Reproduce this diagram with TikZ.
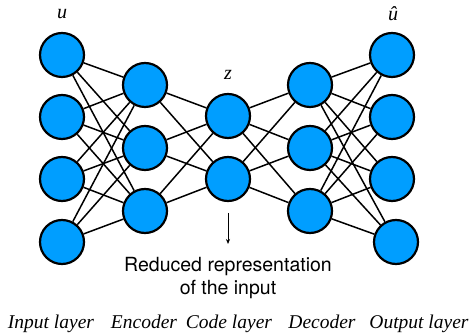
\documentclass[tikz,border=0pt]{standalone}
\usepackage{fontspec}
\setmainfont{Liberation Serif}
\newfontfamily\labelsans{TeX Gyre Heros}
\usetikzlibrary{arrows.meta}
\definecolor{neuron}{RGB}{0,158,255}
\pgfdeclarelayer{links}
\pgfsetlayers{links,main}
\tikzset{
  neuronnode/.style={circle, draw=black, line width=2.2pt, fill=neuron,
    minimum size=44pt, inner sep=0pt},
  link/.style={draw=black, line width=1.5pt},
  layername/.style={font=\fontsize{19.5}{22}\selectfont\itshape, anchor=base},
  varname/.style={font=\fontsize{20}{22}\selectfont\itshape},
}
\begin{document}
\begin{tikzpicture}[x=1pt,y=-1pt]
\useasboundingbox (0,0) rectangle (471,336);

% neurons
\foreach \i/\y in {1/55,2/117,3/179} \node[neuronnode] (in\i) at (62,\y) {};
\node[neuronnode] (in4) at (62,242) {};
\foreach \i/\y in {1/85,2/148,3/211} \node[neuronnode] (en\i) at (145,\y) {};
\foreach \i/\y in {1/116,2/179} \node[neuronnode] (co\i) at (228,\y) {};
\foreach \i/\y in {1/85,2/148,3/211} \node[neuronnode] (de\i) at (310,\y) {};
\foreach \i/\y in {1/55,2/117,3/179} \node[neuronnode] (out\i) at (392,\y) {};
\node[neuronnode] (out4) at (396,242) {};

% fully connected links, drawn behind the neurons
\begin{pgfonlayer}{links}
  \foreach \a in {1,...,4} \foreach \b in {1,...,3} \draw[link] (in\a) -- (en\b);
  \foreach \a in {1,...,3} \foreach \b in {1,2} \draw[link] (en\a) -- (co\b);
  \foreach \a in {1,2} \foreach \b in {1,...,3} \draw[link] (co\a) -- (de\b);
  \foreach \a in {1,...,3} \foreach \b in {1,...,4} \draw[link] (de\a) -- (out\b);
\end{pgfonlayer}

% variable names
\node[varname] (ulab) at (62,14) {u};
\node[varname] (uhatlab) at (393,14) {û};
\node[varname] (zlab) at (228,75) {z};

% code annotation
\coordinate (arrtop) at (228,213);
\coordinate (arrbot) at (228,244);
\draw[line width=0.7pt, -{Stealth[length=5pt,width=4pt]}] (arrtop) -- (arrbot);
\node[font=\labelsans\fontsize{19.5}{23}\selectfont, align=center, anchor=base]
  (reduced) at (228,295) {Reduced representation\\of the input};

% layer names
\node[layername] (linput) at (51,329) {Input layer};
\node[layername] (lenc) at (144,329) {Encoder};
\node[layername] (lcode) at (229,329) {Code layer};
\node[layername] (ldec) at (322,329) {Decoder};
\node[layername] (lout) at (419,329) {Output layer};
\end{tikzpicture}
\end{document}
